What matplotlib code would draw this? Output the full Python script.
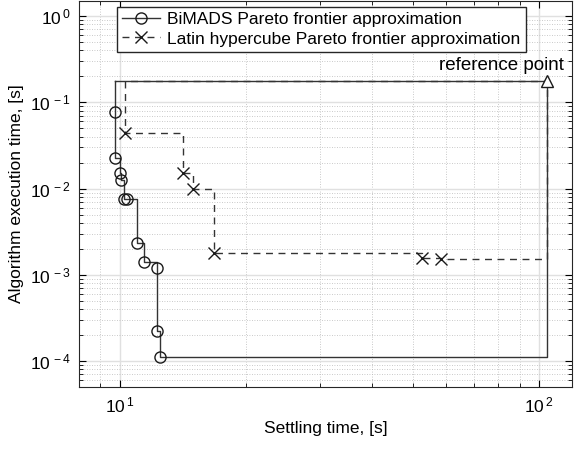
import numpy as np
import matplotlib
matplotlib.use("Agg")
from matplotlib import pyplot as plt
from matplotlib.ticker import FuncFormatter

plt.rcParams['font.family'] = ['Liberation Sans', 'DejaVu Sans']
plt.rcParams['mathtext.fontset'] = 'custom'
plt.rcParams['mathtext.rm'] = 'Liberation Sans'
plt.rcParams['mathtext.it'] = 'Liberation Sans'

# pareto points (settling time [s], execution time [s])
bimads_x = [9.73, 9.75, 10.0, 10.05, 10.22, 10.39, 11.0, 11.43, 12.3, 12.3, 12.5]
bimads_y = [0.077, 0.0226, 0.0151, 0.0126, 0.00755, 0.00755, 0.00235, 0.00142, 0.00121, 0.000224, 0.000112]

lhs_x = [10.32, 14.16, 14.96, 16.79, 52.6, 58.4]
lhs_y = [0.0436, 0.0150, 0.00987, 0.0018, 0.00158, 0.00151]

ref_x, ref_y = 104.5, 0.176


def staircase(xs, ys):
    # closed front: top edge -> steps -> ref point
    px = [xs[0]]
    py = [ref_y]
    idx = []
    for i in range(len(xs)):
        if i > 0:
            px.append(xs[i])
            py.append(ys[i - 1])
        px.append(xs[i])
        py.append(ys[i])
        idx.append(len(px) - 1)
    px += [ref_x, ref_x, xs[0]]
    py += [ys[-1], ref_y, ref_y]
    return px, py, idx


def pow10(v, pos):
    return r'$10^{\,%d}$' % int(round(np.log10(v)))


fig = plt.figure(figsize=(5.81, 4.49), dpi=100)
ax = fig.add_axes([0.136, 0.138, 0.849, 0.86])

bx, by, bi = staircase(bimads_x, bimads_y)
lx, ly, li = staircase(lhs_x, lhs_y)

ax.plot(bx, by, '-', color='0.2', lw=1.0, marker='o', markevery=bi,
        mfc='none', mec='0.1', ms=8,
        label='BiMADS Pareto frontier approximation')
ax.plot(lx, ly, '--', color='0.2', lw=1.0, dashes=(5, 4), marker='x',
        markevery=li, mec='0.1', ms=8, mew=1.0,
        label='Latin hypercube Pareto frontier approximation')
ax.plot([ref_x], [ref_y], '^', mfc='white', mec='0.1', ms=9)
ax.annotate('reference point', (ref_x, ref_y), xytext=(12, 5),
            textcoords='offset points', ha='right', va='bottom', fontsize=13.5)

ax.set_xscale('log')
ax.set_yscale('log')
ax.set_xlim(8, 120)
ax.set_ylim(5e-5, 1.5)
ax.xaxis.set_major_formatter(FuncFormatter(pow10))
ax.yaxis.set_major_formatter(FuncFormatter(pow10))

ax.grid(True, which='major', color='0.88', lw=1.0, ls='-')
ax.grid(True, which='minor', color='0.72', lw=0.6, ls=(0, (1, 2)))
ax.tick_params(which='both', direction='in', top=True, right=True, labelsize=12.5)
ax.tick_params(which='major', length=5, pad=6)
ax.tick_params(which='minor', length=3)
for s in ax.spines.values():
    s.set_color('0.15')

ax.set_xlabel('Settling time, [s]', fontsize=12.5)
ax.set_ylabel('Algorithm execution time, [s]', fontsize=12.5, labelpad=4)

leg = ax.legend(loc='upper left', bbox_to_anchor=(0.077, 0.985), fontsize=12.5,
                fancybox=False, framealpha=1, edgecolor='0.15',
                handlelength=2.2, borderpad=0.3, labelspacing=0.25,
                handletextpad=0.4, borderaxespad=0)
leg.get_frame().set_linewidth(1.0)

fig.savefig('out.png', dpi=100)
